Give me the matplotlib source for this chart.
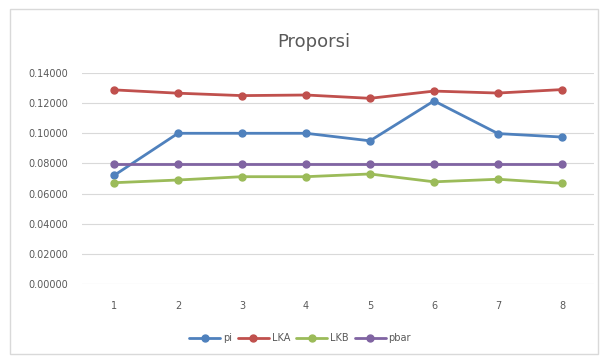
import matplotlib
matplotlib.use("Agg")
import matplotlib.pyplot as plt
from matplotlib.patches import Rectangle

categories = [1, 2, 3, 4, 5, 6, 7, 8]
pi = [0.0720, 0.1000, 0.1000, 0.1000, 0.0950, 0.1215, 0.0998, 0.0975]
LKA = [0.1288, 0.1266, 0.1250, 0.1254, 0.1232, 0.1280, 0.1267, 0.1290]
LKB = [0.0672, 0.0690, 0.0712, 0.0712, 0.0730, 0.0678, 0.0695, 0.0668]
pbar = [0.0797] * 8
yticks = [0.0, 0.02, 0.04, 0.06, 0.08, 0.10, 0.12, 0.14]

series = [("pi", pi, "#4F81BD"), ("LKA", LKA, "#C0504D"),
          ("LKB", LKB, "#9BBB59"), ("pbar", pbar, "#8064A2")]

plt.rcParams['font.family'] = ['DejaVu Sans']
fig = plt.figure(figsize=(6.0, 3.58), dpi=100)
fig.patches.append(Rectangle((10/600, 1 - 354/358), 588/600, 345/358,
                             transform=fig.transFigure, fill=False,
                             edgecolor="#d9d9d9", linewidth=1.0))
ax = fig.add_axes([82/600, 74/358, 512/600, 211/358])

x = list(range(len(categories)))
for name, vals, col in series:
    ax.plot([i + 1 for i in x], vals, color=col, lw=2.0, marker="o",
            markersize=5, label=name, solid_capstyle="round")

ax.set_xlim(0.5, 8.5)
ax.set_ylim(0, 0.14)
ax.set_yticks(yticks)
ax.set_yticklabels([f"{v:.5f}" for v in yticks])
ax.set_xticks([i + 1 for i in x])
ax.set_xticklabels([str(c) for c in categories])
ax.grid(axis="y", color="#d9d9d9", lw=0.8)
ax.set_axisbelow(True)
for s in ax.spines.values():
    s.set_visible(False)
ax.tick_params(axis="both", length=0, labelsize=7, colors="#595959")
ax.tick_params(axis="y", pad=10)
ax.tick_params(axis="x", pad=12)

fig.text(314/600, 1 - 42/358, "Proporsi", ha="center", va="center",
         fontsize=13, color="#595959")

fig.legend(loc="center", bbox_to_anchor=(300/600, 1 - 338/358), ncol=4,
           frameon=False, fontsize=7, handlelength=3.2, handletextpad=0.3,
           columnspacing=0.6, labelcolor="#595959")

fig.savefig("out.png", dpi=100)
